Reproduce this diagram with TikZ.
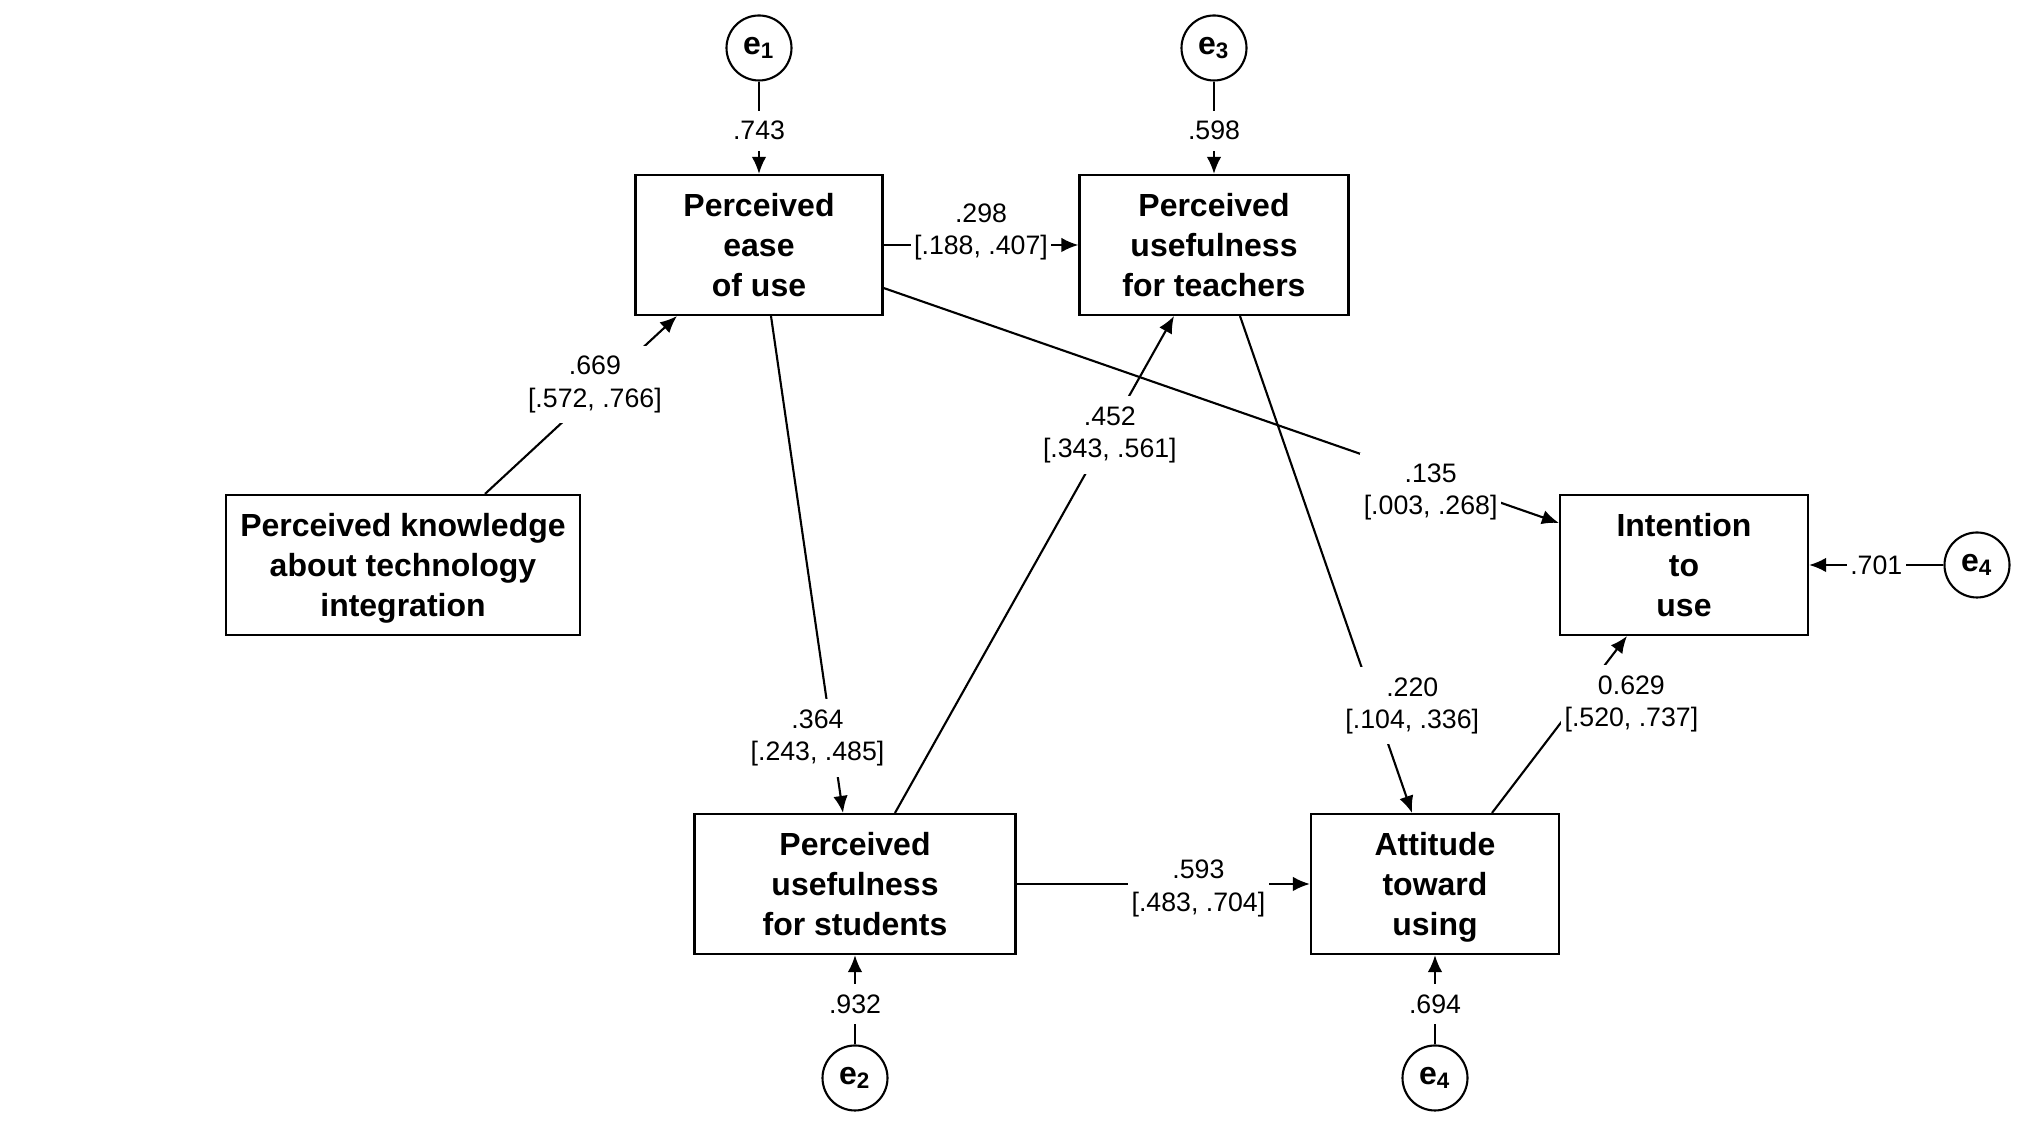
\documentclass[tikz,border=0pt]{standalone}
\usepackage{fontspec}
\setmainfont{Liberation Sans}
\usetikzlibrary{arrows.meta}

\begin{document}
\begin{tikzpicture}[node distance=2cm, line width=0.6pt, >={Latex[length=1.7mm,width=1.45mm]},
                    main node/.style={rectangle,draw,align=center,minimum height=1.4cm,inner sep=0pt,font=\fontsize{9.1}{11.3}\selectfont\bfseries},
                    err node/.style={circle,draw,minimum size=0.65cm,inner sep=0pt,font=\fontsize{9.1}{11}\selectfont\bfseries},
                    coef/.style={fill=white,align=center,inner xsep=1pt,inner ysep=3pt,font=\fontsize{7.6}{9.2}\selectfont},
                    ci/.style={coef,yshift=-0.045cm}]

\useasboundingbox (0,0) rectangle (20.34,11.32);

   \node[main node,minimum width=2.47cm] (1) at (7.59,8.87) {Perceived\\ease\\of use};
  \node[main node,minimum width=2.69cm] (2) [right of=1, node distance=4.55cm] {Perceived\\usefulness\\for teachers};
    \node[main node,minimum width=3.54cm] (3) [below of=1, node distance=3.2cm, xshift=-3.56cm] {Perceived knowledge\\about technology\\\smash{integration}};
      \node[main node,minimum width=2.48cm] (4) [right of=3, node distance=12.81cm] {Intention\\to\\use};
        \node[main node,minimum width=3.21cm] (5) [below of=1, node distance=6.39cm, xshift=0.96cm] {Perceived\\usefulness\\for students};
          \node[main node,minimum width=2.48cm] (6) [right of=5, node distance=5.80cm] {Attitude\\toward\\\smash{using}};

  % error terms
  \node[err node] (e1) [above of=1, node distance=1.97cm] {e\textsubscript{1}};
  \node[err node] (e3) [above of=2, node distance=1.97cm] {e\textsubscript{3}};
  \node[err node] (e2) [below of=5, node distance=1.94cm] {e\textsubscript{2}};
  \node[err node] (e4b) [below of=6, node distance=1.94cm] {e\textsubscript{4}};
  \node[err node] (e4) [right of=4, node distance=2.93cm] {e\textsubscript{4}};

  % paths
  \draw[->] ([xshift=0.82cm]3.north) -- node[ci,pos=0.64,xshift=-0.13cm] {.669\\{[.572, .766]}} ([xshift=-0.82cm]1.south);
  \draw[->] (1) -- node[ci,yshift=0.175cm] {.298\\{[.188, .407]}} (2);
  \draw[->] ([yshift=-0.43cm]1.east) -- node[ci,pos=0.81,yshift=-0.09cm] {.135\\{[.003, .268]}} ([yshift=0.42cm]4.west);
  \draw[->] ([xshift=0.12cm]1.south) -- node[ci,pos=0.84,xshift=-0.14cm] {.364\\{[.243, .485]}} ([xshift=-0.12cm]5.north);
  \draw[->] ([xshift=0.40cm]5.north) -- node[ci,pos=0.77] {.452\\{[.343, .561]}} ([xshift=-0.40cm]2.south);
  \draw[->] ([xshift=0.26cm]2.south) -- node[ci,pos=0.775,xshift=0.39cm] {.220\\{[.104, .336]}} ([xshift=-0.23cm]6.north);
  \draw[->] (5) -- node[ci,pos=0.62] {.593\\{[.483, .704]}} (6);
  \draw[->] ([xshift=0.57cm]6.north) -- node[ci,pos=0.64,xshift=0.53cm] {0.629\\{[.520, .737]}} ([xshift=-0.57cm]4.south);

  \draw[->] (e1) -- node[coef,pos=0.53] {.743} (1);
  \draw[->] (e3) -- node[coef,pos=0.53] {.598} (2);
  \draw[->] (e2) -- node[coef,pos=0.45] {.932} (5);
  \draw[->] (e4b) -- node[coef,pos=0.45] {.694} (6);
  \draw[->] (e4) -- node[coef,pos=0.5] {.701} (4);

\end{tikzpicture}
\end{document}
